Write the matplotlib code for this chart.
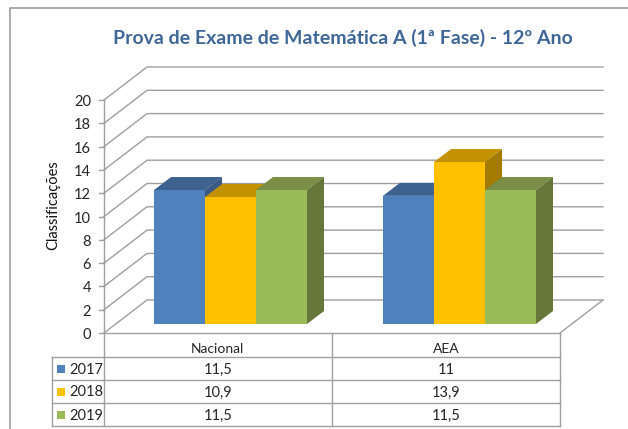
import matplotlib
matplotlib.use('Agg')
import matplotlib.pyplot as plt
from matplotlib.patches import Polygon

categories = ['Nacional', 'AEA']
years = ['2017', '2018', '2019']
v2017 = [11.5, 11]
v2018 = [10.9, 13.9]
v2019 = [11.5, 11.5]
cell_text = [['11,5', '11'], ['10,9', '13,9'], ['11,5', '11,5']]
yticks = list(range(0, 21, 2))

W, H = 628, 429
plt.rcParams['font.family'] = ['Lato', 'DejaVu Sans']

fig = plt.figure(figsize=(W / 100, H / 100), dpi=100)
ax = fig.add_axes([0, 0, 1, 1])
# x in pixels, y in chart units (0 sits at pixel row 333)
unit = 11.65
ax.set_xlim(0, W)
ax.set_ylim((333 - H) / unit, 333 / unit)
ax.axis('off')

grid = '#9f9f9f'
txt = '#262626'
lw = 1.0
x0, x1 = 104, 560
dx, dy = 43, 33 / unit
bdx, bdy = 17, 13 / unit
floor = 9 / unit
to_y = lambda p: (333 - p) / unit

# picture frame, only left and top show
ax.plot([9.5, 9.5, W], [to_y(H), to_y(7.5), to_y(7.5)], color='#a0a0a0', lw=1.2, zorder=1)

# walls and gridlines
for t in yticks:
    ax.plot([x0, x0 + dx, x1 + dx], [t, t + dy, t + dy], color=grid, lw=lw, zorder=1)
    ax.plot([x0 - 5, x0], [t, t], color=grid, lw=lw, zorder=1)
    ax.text(x0 - 13, t - 2 / unit, str(t), ha='right', va='center', fontsize=10.5, color=txt)
ax.plot([x0, x0], [0, 20], color=grid, lw=lw, zorder=1)
ax.plot([x1, x1 + dx], [0, dy], color=grid, lw=lw, zorder=1)
ax.plot([x0, x1], [0, 0], color=grid, lw=lw, zorder=1)


def bar3d(x, w, v, front, top, side, z):
    ax.bar(x, v, w, bottom=floor, align='edge', color=front, zorder=z)
    h = floor + v
    ax.add_patch(Polygon([(x, h), (x + bdx, h + bdy), (x + w + bdx, h + bdy), (x + w, h)],
                         color=top, lw=0, zorder=z))
    ax.add_patch(Polygon([(x + w, floor), (x + w + bdx, floor + bdy), (x + w + bdx, h + bdy), (x + w, h)],
                         color=side, lw=0, zorder=z))


series = [(v2017, '#4f81bd', '#3d628f', '#395a85'),
          (v2018, '#ffc000', '#c29200', '#a37b00'),
          (v2019, '#9bbb59', '#788f45', '#65783a')]
starts = [154, 383]
bw = 51
for c, start in enumerate(starts):
    for s, (vals, front, top, side) in enumerate(series):
        bar3d(start + s * bw, bw, vals[c], front, top, side, 3 + s)

# data table under the chart
rows = [357, 380, 403, 426]
col = [103.5, 332, 560]
for p in rows:
    ax.plot([52, x1], [to_y(p)] * 2, color=grid, lw=lw, zorder=1)
for x in col:
    ax.plot([x, x], [0, to_y(rows[-1])], color=grid, lw=lw, zorder=1)
ax.plot([52, 52], [to_y(rows[0]), to_y(rows[-1])], color=grid, lw=lw, zorder=1)
for c, name in enumerate(categories):
    mid = (col[c] + col[c + 1]) / 2
    ax.text(mid, to_y(349), name, ha='center', va='center', fontsize=10, color=txt)
    for r in range(3):
        ax.text(mid, to_y((rows[r] + rows[r + 1]) / 2 + 1), cell_text[r][c], ha='center', va='center',
                fontsize=10.5, color=txt)
for r, (year, s) in enumerate(zip(years, series)):
    mid = (rows[r] + rows[r + 1]) / 2
    ax.plot([61], [to_y(mid)], 's', ms=6, color=s[1], mew=0)
    ax.text(69, to_y(mid + 1), year, ha='left', va='center', fontsize=10.5, color=txt)

ax.text(53, to_y(205), 'Classificações', rotation=90, ha='center', va='center', fontsize=10.5, color='#111111')
ax.text(343, to_y(37.5), 'Prova de Exame de Matemática A (1ª Fase) - 12º Ano', ha='center', va='center',
        fontsize=14, fontweight='bold', color='#3f6797')

fig.savefig('out.png', dpi=100)
